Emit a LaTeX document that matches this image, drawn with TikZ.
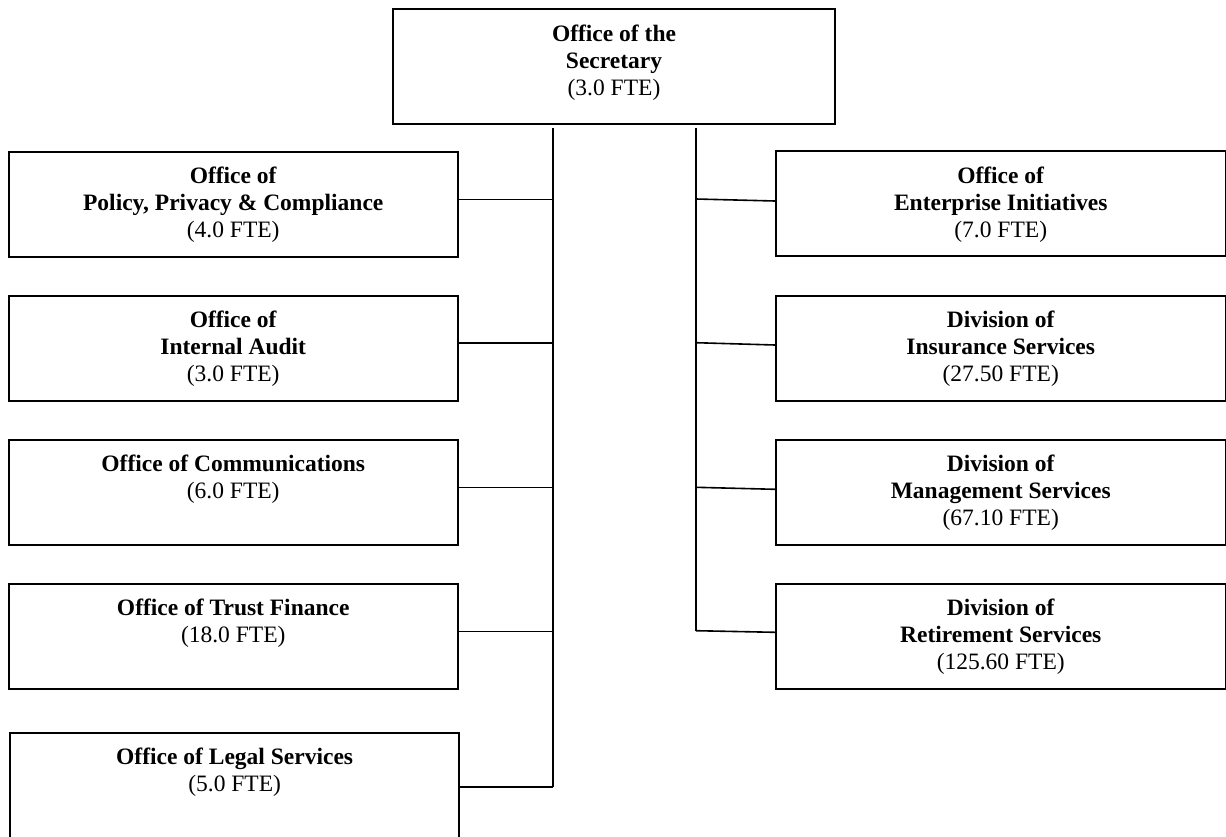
\documentclass[tikz,border=0pt]{standalone}
\usepackage{fontspec}
\setmainfont{Liberation Serif}
\begin{document}
\begin{tikzpicture}[x=1pt,y=-1pt,
  unit/.style={draw, line width=2pt, minimum width=449.5pt, minimum height=105pt, inner sep=0pt},
  lbl/.style={inner sep=0pt, align=center, font=\fontsize{23.5}{27}\selectfont, anchor=north},
  link/.style={line width=1.6pt}]
\useasboundingbox (0,0) rectangle (1226,836);
% top box
\node[unit, minimum width=442pt, minimum height=115pt] (sec) at (614,66.8) {};
\node[lbl] (sect) at ([yshift=-14.1pt]sec.north) {\strut\textbf{Office of the}\\\textbf{Secretary}\\(3.0 FTE)};
% left column
\node[unit] (l1) at (233.25,204.1) {};
\node[lbl] (l1t) at ([yshift=-14.1pt]l1.north) {\strut\textbf{Office of}\\\textbf{Policy, Privacy \& Compliance}\\(4.0 FTE)};
\node[unit] (l2) at (233.25,348) {};
\node[lbl] (l2t) at ([yshift=-14.1pt]l2.north) {\strut\textbf{Office of}\\\textbf{Internal Audit}\\(3.0 FTE)};
\node[unit] (l3) at (233.25,492.2) {};
\node[lbl] (l3t) at ([yshift=-14.1pt]l3.north) {\strut\textbf{Office of Communications}\\(6.0 FTE)};
\node[unit] (l4) at (233.25,636) {};
\node[lbl] (l4t) at ([yshift=-14.1pt]l4.north) {\strut\textbf{Office of Trust Finance}\\(18.0 FTE)};
\node[unit] (l5) at (234.65,785.2) {};
\node[lbl] (l5t) at ([yshift=-13.5pt]l5.north) {\strut\textbf{Office of Legal Services}\\(5.0 FTE)};
% right column
\node[unit] (r1) at (1000.75,203.9) {};
\node[lbl] (r1t) at ([yshift=-14.1pt]r1.north) {\strut\textbf{Office of}\\\textbf{Enterprise Initiatives}\\(7.0 FTE)};
\node[unit] (r2) at (1000.75,348) {};
\node[lbl] (r2t) at ([yshift=-14.1pt]r2.north) {\strut\textbf{Division of}\\\textbf{Insurance Services}\\(27.50 FTE)};
\node[unit] (r3) at (1000.75,492.2) {};
\node[lbl] (r3t) at ([yshift=-14.1pt]r3.north) {\strut\textbf{Division of}\\\textbf{Management Services}\\(67.10 FTE)};
\node[unit] (r4) at (1000.75,636) {};
\node[lbl] (r4t) at ([yshift=-14.1pt]r4.north) {\strut\textbf{Division of}\\\textbf{Retirement Services}\\(125.60 FTE)};
% trunks
\coordinate (lt) at (552.7,127.7);
\coordinate (lb) at (552.7,786.7);
\coordinate (rt) at (696,127.7);
\coordinate (rb) at (696,630.7);
\draw[link] (lt) -- (lb);
\draw[link] (rt) -- (rb);
% left branches
\draw[link] ([yshift=4.8pt]l1.east) -- ([yshift=4.8pt]l1.east -| lt);
\draw[link] ([yshift=5pt]l2.east) -- ([yshift=5pt]l2.east -| lt);
\draw[link] ([yshift=4.9pt]l3.east) -- ([yshift=4.9pt]l3.east -| lt);
\draw[link] ([yshift=4.7pt]l4.east) -- ([yshift=4.7pt]l4.east -| lt);
\draw[link] (l5.east |- lb) -- (lb);
% right branches
\draw[link] ([yshift=4.9pt]r1.west -| rt) -- ([yshift=2.9pt]r1.west);
\draw[link] ([yshift=5.3pt]r2.west -| rt) -- ([yshift=3pt]r2.west);
\draw[link] ([yshift=4.9pt]r3.west -| rt) -- ([yshift=2.9pt]r3.west);
\draw[link] (rb) -- ([yshift=3.7pt]r4.west);
\end{tikzpicture}
\end{document}
